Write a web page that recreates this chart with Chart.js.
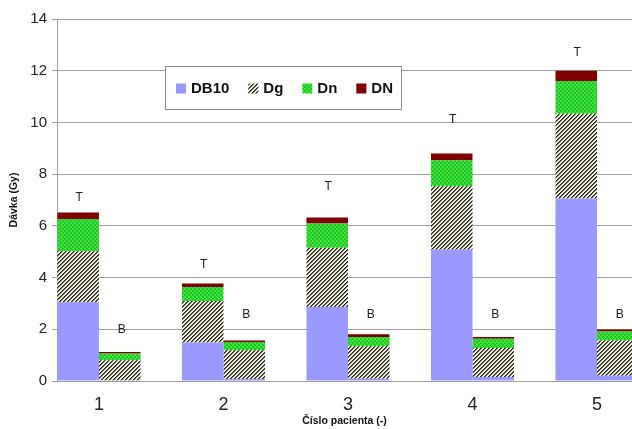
<!DOCTYPE html>
<html lang="cs">
<head>
<meta charset="UTF-8">
<title>Dávka podle pacienta</title>
<style>
  html, body { margin: 0; padding: 0; background: #fff; overflow: hidden; }
  #wrap { width: 632px; height: 429px; }
</style>
</head>
<body>
<div id="wrap"><canvas id="doseChart" width="632" height="429"></canvas></div>

<script src="https://cdn.jsdelivr.net/npm/chart.js"></script>
<script>
// pacienti (osa x)
const patients = [1, 2, 3, 4, 5];
const seriesNames = ['DB10', 'Dg', 'Dn', 'DN'];

// sloupec T
const db10T = [3.05, 1.49, 2.86, 5.08, 7.06];
const dgT   = [1.97, 1.60, 2.29, 2.45, 3.28];
const dnT   = [1.25, 0.55, 0.94, 1.01, 1.26];
const dNT   = [0.25, 0.13, 0.23, 0.26, 0.40];

// sloupec B
const db10B = [0.03, 0.08, 0.09, 0.15, 0.20];
const dgB   = [0.77, 1.11, 1.25, 1.13, 1.37];
const dnB   = [0.26, 0.32, 0.36, 0.35, 0.34];
const dNB   = [0.06, 0.06, 0.11, 0.07, 0.08];

// kde stoji popisky T a B (v Gy)
const tLabelAt = [7.1, 4.5, 7.5, 10.1, 12.7];
const bLabelAt = [2.0, 2.55, 2.55, 2.55, 2.55];

const FONT = '"Liberation Sans", Arial, sans-serif';
Chart.defaults.font.family = FONT;

function makePattern(size, paint) {
    const c = document.createElement('canvas');
    c.width = c.height = size;
    const g = c.getContext('2d');
    paint(g, size);
    return g.createPattern(c, 'repeat');
}

// sikme srafovani
const hatch = makePattern(4, (g, s) => {
    g.fillStyle = '#f4f1dc';
    g.fillRect(0, 0, s, s);
    for (let x = 0; x < s; x++) {
        for (let y = 0; y < s; y++) {
            const d = (x + y) % 4;
            if (d === 0) { g.fillStyle = '#1c1c1c'; g.fillRect(x, y, 1, 1); }
            if (d === 1) { g.fillStyle = '#6a6a62'; g.fillRect(x, y, 1, 1); }
        }
    }
});

// zelena sachovnice
const greenCheck = makePattern(4, (g) => {
    g.fillStyle = '#1fc81f';
    g.fillRect(0, 0, 4, 4);
    g.fillStyle = '#45e045';
    g.fillRect(0, 0, 2, 2);
    g.fillRect(2, 2, 2, 2);
});

const fills = ['#9999ff', hatch, greenCheck, '#800000'];
const valuesT = [db10T, dgT, dnT, dNT];
const valuesB = [db10B, dgB, dnB, dNB];

const toPoints = (arr) => arr.map((v, i) => ({ x: patients[i], y: v }));

const datasets = [];
seriesNames.forEach((name, k) => {
    datasets.push({ label: name, stack: 'T', data: toPoints(valuesT[k]), backgroundColor: fills[k] });
    datasets.push({ label: name, stack: 'B', data: toPoints(valuesB[k]), backgroundColor: fills[k] });
});

const markers = {
    id: 'markers',
    afterDatasetsDraw(chart) {
        const ctx = chart.ctx;
        const y = chart.scales.y;
        const metaT = chart.getDatasetMeta(0);
        const metaB = chart.getDatasetMeta(1);
        ctx.save();
        ctx.font = '12px ' + FONT;
        ctx.fillStyle = '#222';
        ctx.textAlign = 'center';
        ctx.textBaseline = 'middle';
        patients.forEach((p, i) => {
            ctx.fillText('T', metaT.data[i].x + 1, y.getPixelForValue(tLabelAt[i]));
            ctx.fillText('B', metaB.data[i].x + 2, y.getPixelForValue(bLabelAt[i]));
        });
        ctx.restore();
    },
    afterDraw(chart) {
        // legenda v ramecku
        const ctx = chart.ctx;
        const left = 165, top = 66, h = 43;
        ctx.save();
        ctx.font = 'bold 15px ' + FONT;
        let x = left + 11;
        const spots = seriesNames.map((name) => {
            const s = { name, x };
            x += 15 + ctx.measureText(name).width + 19;
            return s;
        });
        const w = x - 19 + 8 - left;
        ctx.fillStyle = '#fff';
        ctx.fillRect(left, top, w, h);
        ctx.strokeStyle = '#8c8c8c';
        ctx.lineWidth = 1;
        ctx.strokeRect(left + 0.5, top + 0.5, w, h);
        const cy = top + h / 2 + 1;
        ctx.textBaseline = 'middle';
        spots.forEach((s, k) => {
            ctx.fillStyle = fills[k];
            ctx.fillRect(s.x, cy - 5, 10, 10);
            ctx.fillStyle = '#111';
            ctx.fillText(s.name, s.x + 15, cy);
        });
        ctx.restore();
    }
};

new Chart(document.getElementById('doseChart'), {
    type: 'bar',
    data: { datasets },
    plugins: [markers],
    options: {
        responsive: false,
        animation: false,
        layout: { padding: { top: 19, left: 0, right: 0, bottom: 0 } },
        datasets: {
            bar: { categoryPercentage: 0.667, barPercentage: 1.0, borderWidth: 0 }
        },
        plugins: {
            legend: { display: false },
            tooltip: { enabled: false }
        },
        scales: {
            x: {
                type: 'linear',
                offset: false,
                min: 0.663,
                max: 5.281,
                grid: { display: false, drawTicks: false, offset: false },
                border: { display: true, color: '#a0a0a0' },
                ticks: {
                    stepSize: 1,
                    includeBounds: false,
                    padding: 13,
                    color: '#222',
                    font: { size: 18 },
                    callback: (v) => Number.isInteger(v) ? String(v) : ''
                },
                title: {
                    display: true,
                    text: 'Číslo pacienta (-)',
                    color: '#111',
                    font: { size: 10.5, weight: 'bold' },
                    padding: { top: 0, bottom: 2 }
                },
                afterFit: (scale) => { scale.height = 48; }
            },
            y: {
                stacked: true,
                min: 0,
                max: 14,
                grid: { color: '#a0a0a0', tickLength: 5 },
                border: { display: true, color: '#a0a0a0' },
                ticks: { stepSize: 2, padding: 5, color: '#222', font: { size: 15 } },
                title: {
                    display: true,
                    text: 'Dávka (Gy)',
                    color: '#111',
                    font: { size: 10.5, weight: 'bold' },
                    padding: { top: 8, bottom: 0 }
                },
                afterFit: (scale) => { scale.width = 57; }
            }
        }
    }
});
</script>
</body>
</html>
